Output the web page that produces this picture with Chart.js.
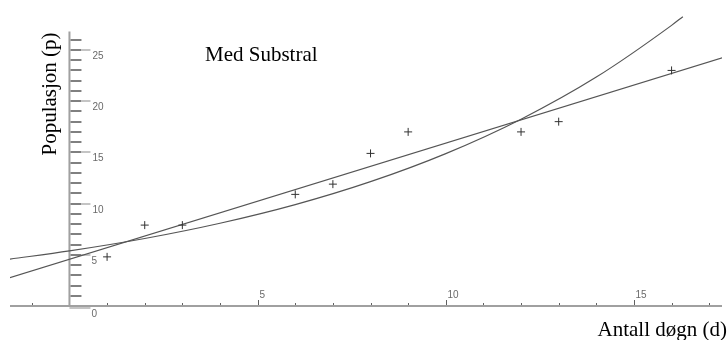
<!DOCTYPE html>
<html>
<head>
<meta charset="utf-8">
<script src="https://cdn.jsdelivr.net/npm/chart.js@4.4.1/dist/chart.umd.min.js"></script>
<style>
  html, body { margin: 0; padding: 0; background: #fff; }
  canvas { display: block; }
</style>
</head>
<body>
<canvas id="popChart" width="727" height="340"></canvas>
<script>
// Measured points (days, population)
const days = [1, 2, 3, 6, 7, 8, 9, 12, 13, 16];
const population = [4.8, 7.9, 7.9, 10.9, 11.9, 14.9, 17.0, 17.0, 18.0, 23.0];

// Straight fit line, read at its two ends
const linearDays = [-1.6, 17.4];
const linearPop = [2.75, 24.3];

// Curved (exponential) fit
const curveDays = [-1.6, 0, 2, 4, 6, 8, 10, 12, 14, 16, 16.3];
const curvePop = [4.57, 5.38, 6.59, 8.08, 9.9, 12.14, 14.88, 18.24, 22.35, 27.4, 28.25];

// Axis ticks
const xMajorTicks = [5, 10, 15];
const xMinorTicks = [-1, 1, 2, 3, 4, 5, 6, 7, 8, 9, 10, 11, 12, 13, 14, 15, 16, 17];
const yMajorTicks = [0, 5, 10, 15, 20, 25];
const yMinorTicks = [1, 2, 3, 4, 5, 6, 7, 8, 9, 10, 11, 12, 13, 14, 15, 16, 17, 18, 19, 20, 21, 22, 23, 24, 25, 26];

const toXY = (xs, ys) => xs.map((x, i) => ({ x: x, y: ys[i] }));

// Draws the crossing axes, ticks and texts in the old plot style
const axesPlugin = {
    id: 'oldAxes',
    beforeDatasetsDraw(chart) {
        const ctx = chart.ctx;
        const xs = chart.scales.x;
        const ys = chart.scales.y;
        const x0 = xs.getPixelForValue(0);
        const y0 = ys.getPixelForValue(0);
        ctx.save();
        ctx.lineCap = 'butt';
        // x axis
        ctx.strokeStyle = '#a0a0a0';
        ctx.lineWidth = 2;
        ctx.beginPath();
        ctx.moveTo(chart.chartArea.left, y0);
        ctx.lineTo(chart.chartArea.right, y0);
        ctx.stroke();
        // y axis
        ctx.beginPath();
        ctx.moveTo(x0, ys.getPixelForValue(26.8));
        ctx.lineTo(x0, y0);
        ctx.stroke();
        // y minor ticks
        ctx.strokeStyle = '#808080';
        ctx.lineWidth = 2;
        yMinorTicks.forEach(v => {
            const py = Math.round(ys.getPixelForValue(v));
            ctx.beginPath();
            ctx.moveTo(x0 + 1, py);
            ctx.lineTo(x0 + 12, py);
            ctx.stroke();
        });
        // y major ticks (light extension) + labels
        ctx.font = '10px "Liberation Sans", Arial, sans-serif';
        ctx.textBaseline = 'top';
        ctx.textAlign = 'left';
        yMajorTicks.forEach(v => {
            let py = Math.round(ys.getPixelForValue(v));
            if (v === 0) py += 2;
            ctx.strokeStyle = '#c4c4c4';
            ctx.lineWidth = 2;
            ctx.beginPath();
            ctx.moveTo(v === 0 ? x0 : x0 + 12, py);
            ctx.lineTo(x0 + 21, py);
            ctx.stroke();
            ctx.fillStyle = '#6a6a6a';
            ctx.fillText(String(v), x0 + (v < 10 ? 22 : 23), py + 1);
        });
        // x minor ticks
        ctx.strokeStyle = '#606060';
        ctx.lineWidth = 1;
        xMinorTicks.forEach(v => {
            const px = Math.round(xs.getPixelForValue(v)) + 0.5;
            ctx.beginPath();
            ctx.moveTo(px, y0 - 1);
            ctx.lineTo(px, y0 - 3);
            ctx.stroke();
        });
        // x major ticks + labels
        ctx.textBaseline = 'bottom';
        xMajorTicks.forEach(v => {
            const px = Math.round(xs.getPixelForValue(v)) + 0.5;
            ctx.strokeStyle = '#606060';
            ctx.beginPath();
            ctx.moveTo(px, y0 - 1);
            ctx.lineTo(px, y0 - 6);
            ctx.stroke();
            ctx.fillStyle = '#6a6a6a';
            ctx.fillText(String(v), px + 1, y0 - 6);
        });
        ctx.restore();
    },
    afterDraw(chart) {
        const ctx = chart.ctx;
        ctx.save();
        ctx.fillStyle = '#000';
        ctx.font = '21px "Liberation Serif", "Times New Roman", serif';
        ctx.textBaseline = 'alphabetic';
        // title inside plot
        ctx.textAlign = 'left';
        ctx.fillText('Med Substral', 205, 61);
        // x axis title
        ctx.textAlign = 'right';
        ctx.fillText('Antall døgn (d)', 727, 336);
        // y axis title
        ctx.translate(56, 94);
        ctx.rotate(-Math.PI / 2);
        ctx.textAlign = 'center';
        ctx.fillText('Populasjon (p)', 0, 0);
        ctx.restore();
    }
};

new Chart(document.getElementById('popChart'), {
    type: 'scatter',
    data: {
        datasets: [
            {
                label: 'Målinger',
                data: toXY(days, population),
                pointStyle: 'cross',
                pointRadius: 4,
                borderColor: '#333',
                borderWidth: 1,
                showLine: false
            },
            {
                label: 'Lineær',
                data: toXY(linearDays, linearPop),
                showLine: true,
                pointRadius: 0,
                borderColor: '#555',
                borderWidth: 1.2
            },
            {
                label: 'Eksponentiell',
                data: toXY(curveDays, curvePop),
                showLine: true,
                pointRadius: 0,
                borderColor: '#555',
                borderWidth: 1.2,
                cubicInterpolationMode: 'monotone'
            }
        ]
    },
    options: {
        responsive: false,
        animation: false,
        layout: { padding: { left: 10, right: 0, top: 10, bottom: 10 } },
        plugins: { legend: { display: false }, tooltip: { enabled: false } },
        scales: {
            x: { type: 'linear', min: -1.58, max: 17.34, display: false },
            y: { type: 'linear', min: -2.34, max: 28.9, display: false }
        }
    },
    plugins: [axesPlugin]
});
</script>
</body>
</html>
